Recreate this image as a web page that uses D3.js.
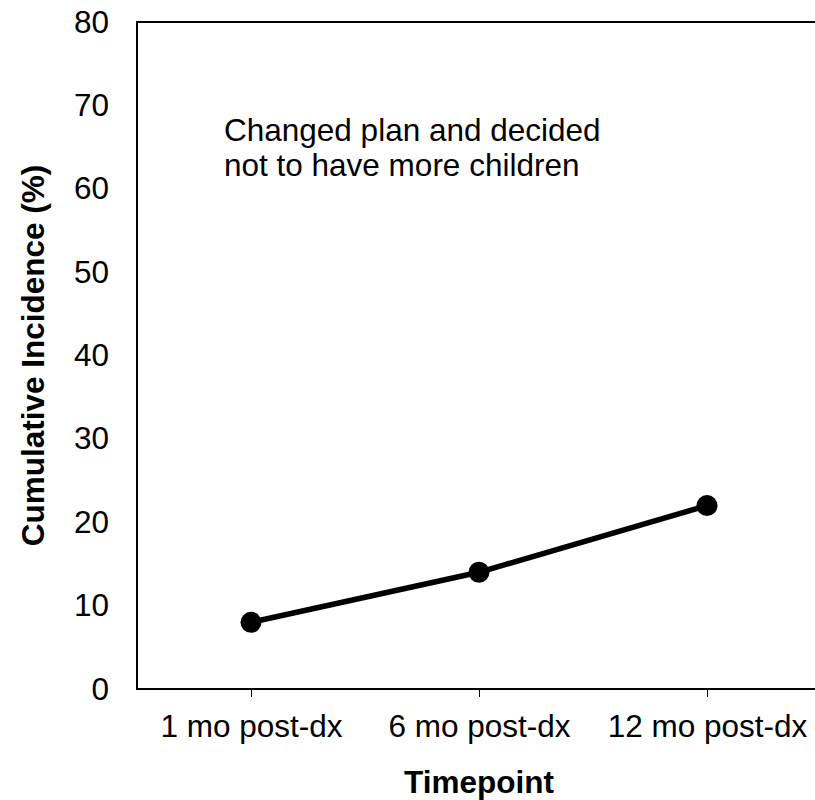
<!DOCTYPE html>
<html>
<head>
<meta charset="utf-8">
<script src="https://cdn.jsdelivr.net/npm/d3@7"></script>
<style>
  body { margin: 0; background: #fff; }
  svg text { font-family: "Liberation Sans", Arial, sans-serif; fill: #000; }
</style>
</head>
<body>
<div id="chart"></div>
<script>
// Data
const timepoints = ["1 mo post-dx", "6 mo post-dx", "12 mo post-dx"];
const incidence = [8, 14, 22];
const yTicks = [0, 10, 20, 30, 40, 50, 60, 70, 80];

const W = 815, H = 800;
const fontSize = "31.5px";
const margin = { top: 22, right: -6, bottom: 111, left: 137 };
const width = W - margin.left - margin.right,
      height = H - margin.top - margin.bottom;

const svg = d3.select("#chart")
    .append("svg")
    .attr("width", W)
    .attr("height", H);

const g = svg.append("g")
    .attr("transform", `translate(${margin.left}, ${margin.top})`);

// X scale (category bands, point in the middle)
const x = d3.scalePoint()
    .domain(timepoints)
    .range([0, width])
    .padding(0.5);

// Y scale
const y = d3.scaleLinear()
    .domain([0, 80])
    .range([height, 0]);

// Plot frame: top + left + bottom (right side runs off the page)
g.append("path")
    .attr("d", `M${width},0H0V${height}H${width}`)
    .attr("fill", "none")
    .attr("stroke", "#000")
    .attr("stroke-width", 2);

// X axis
const xAxis = g.append("g")
    .attr("transform", `translate(0, ${height})`)
    .call(d3.axisBottom(x).tickSize(8).tickPadding(18));
xAxis.select(".domain").remove();
xAxis.selectAll("line").attr("stroke", "#000").attr("stroke-width", 1);
xAxis.selectAll("text").style("font-size", fontSize);

// Y axis (labels only)
const yAxis = g.append("g")
    .call(d3.axisLeft(y).tickValues(yTicks).tickSize(0).tickPadding(28));
yAxis.select(".domain").remove();
yAxis.selectAll("text").style("font-size", fontSize);

// Line
const line = d3.line()
    .x((d, i) => x(timepoints[i]))
    .y(d => y(d));

g.append("path")
    .datum(incidence)
    .attr("fill", "none")
    .attr("stroke", "#000")
    .attr("stroke-width", 5.5)
    .attr("d", line);

// Markers
g.selectAll("circle")
    .data(incidence)
    .join("circle")
    .attr("cx", (d, i) => x(timepoints[i]))
    .attr("cy", d => y(d))
    .attr("r", 10.5)
    .attr("fill", "#000");

// Annotation
const note = g.append("text")
    .attr("x", 87)
    .attr("y", 119)
    .style("font-size", fontSize);
note.append("tspan").attr("x", 87).attr("dy", 0).text("Changed plan and decided");
note.append("tspan").attr("x", 87).attr("dy", 35).text("not to have more children");

// X axis title
svg.append("text")
    .attr("x", x(timepoints[1]) + margin.left)
    .attr("y", 793)
    .attr("text-anchor", "middle")
    .style("font-size", fontSize)
    .style("font-weight", "bold")
    .text("Timepoint");

// Y axis title
svg.append("text")
    .attr("transform", `translate(44, ${margin.top + height / 2}) rotate(-90)`)
    .attr("text-anchor", "middle")
    .style("font-size", fontSize)
    .style("font-weight", "bold")
    .text("Cumulative Incidence (%)");
</script>
</body>
</html>
